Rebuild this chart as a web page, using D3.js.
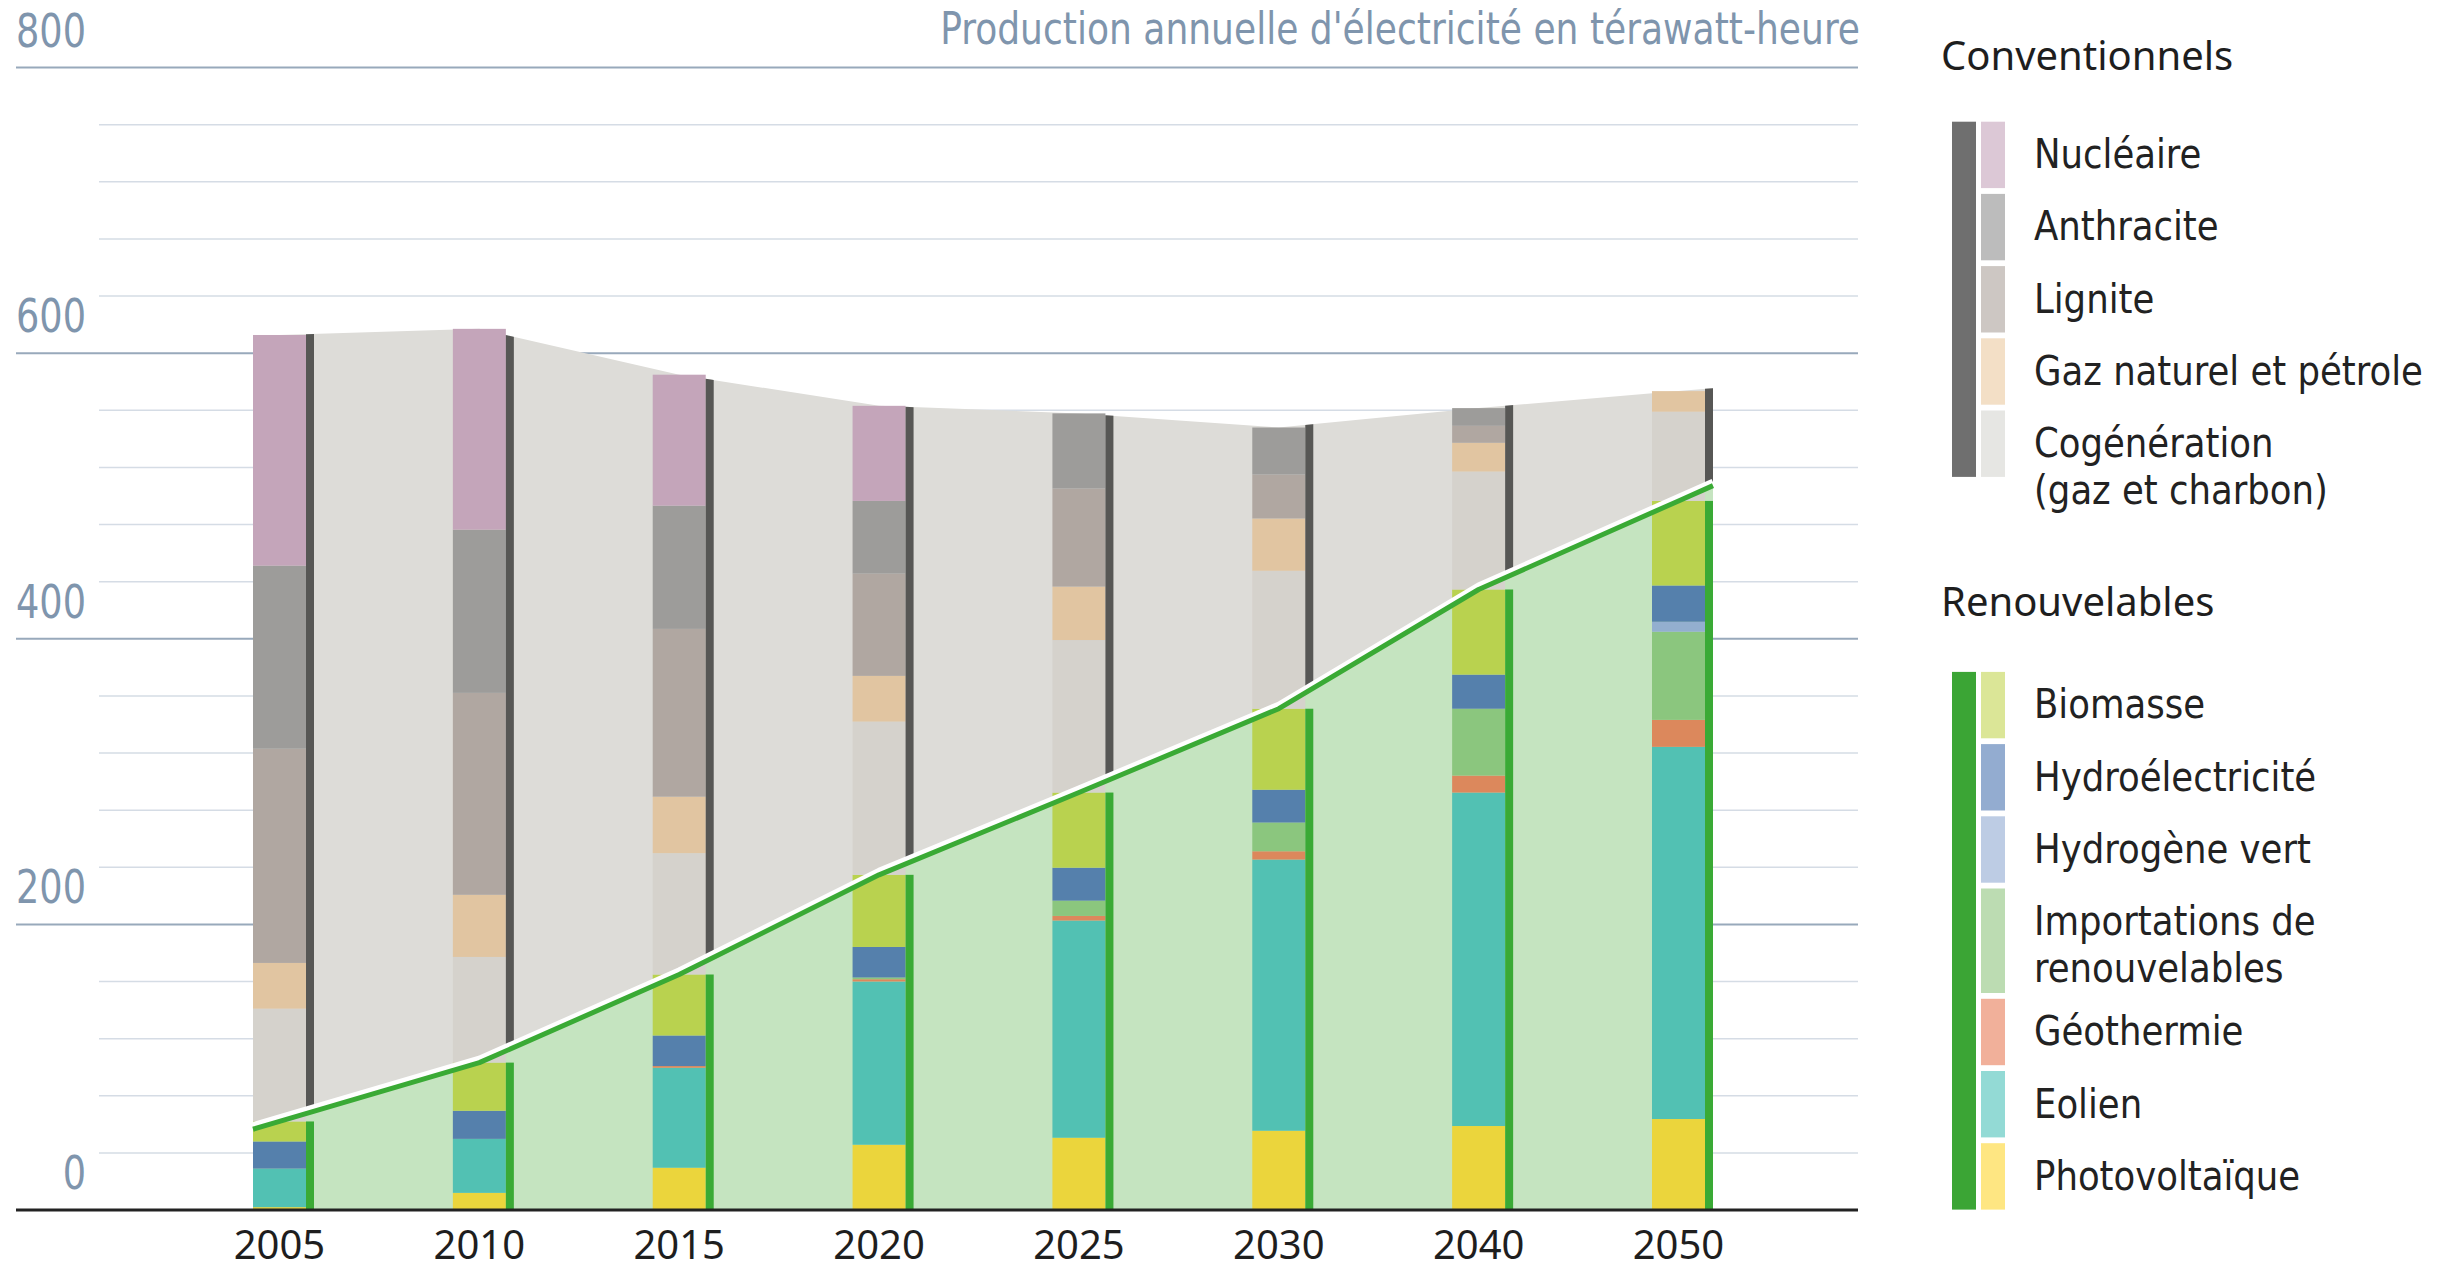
<!DOCTYPE html>
<html lang="fr">
<head>
<meta charset="utf-8">
<title>Production annuelle d'électricité</title>
<script src="https://cdn.jsdelivr.net/npm/d3@7"></script>
<style>
  html, body { margin: 0; padding: 0; background: #fff; }
  svg { display: block; }
</style>
</head>
<body>
<svg id="chart" width="2455" height="1272"></svg>
<script>
// années (catégories)
const years = ["2005", "2010", "2015", "2020", "2025", "2030", "2040", "2050"];

// renouvelables, TWh
const photovoltaique = [2, 12, 29.6, 45.7, 50.6, 55.5, 58.8, 63.7];
const eolien = [27, 37.8, 70, 114.3, 152.1, 189.9, 233.5, 260.6];
const geothermie = [0, 0, 1.2, 1.6, 3.2, 5.8, 11.9, 18.9];
const importations = [0, 0, 0, 1.2, 10.7, 20.1, 46.8, 61.7];
const hydrogene = [0, 0, 0, 0, 0, 0, 0, 7];
const hydro = [19, 19.7, 21.4, 21.4, 23.1, 23, 23.9, 25.4];
const biomasse = [14, 33.7, 42.7, 50.5, 52.6, 56.7, 59.6, 59.2];

// conventionnels, TWh
const cogeneration = [79, 74, 85, 107.3, 106.8, 96.6, 82.6, 62.5];
const gaz = [32, 43.5, 39.5, 32, 37.4, 36.6, 20.1, 14.4];
const lignite = [150, 141.4, 117.5, 71.6, 68.7, 30.8, 11.9, 0];
const anthracite = [128.2, 114.3, 86.3, 50.9, 52.6, 32.9, 12.4, 0];
const nucleaire = [161.5, 140.6, 91.7, 66.6, 0, 0, 0, 0];

// axe vertical
const yTicks = [0, 200, 400, 600, 800];
const yMinorStep = 40;

// légende
const convLabels = ["Nucléaire", "Anthracite", "Lignite", "Gaz naturel et pétrole", "Cogénération\n(gaz et charbon)"];
const renewLabels = ["Biomasse", "Hydroélectricité", "Hydrogène vert", "Importations de\nrenouvelables", "Géothermie", "Eolien", "Photovoltaïque"];

const title = "Production annuelle d'électricité en térawatt-heure";

// séries, de bas en haut de la pile
const SERIES = [
  { key: "pv", values: photovoltaique, bar: "#ebd53c", legend: "#fee682" },
  { key: "eol", values: eolien, bar: "#52c1b3", legend: "#93dad5" },
  { key: "geo", values: geothermie, bar: "#dc885c", legend: "#f1b09a" },
  { key: "imp", values: importations, bar: "#8bc67e", legend: "#bcdcb2" },
  { key: "h2", values: hydrogene, bar: "#93afcf", legend: "#bdcce4" },
  { key: "hydro", values: hydro, bar: "#5580ac", legend: "#93acd0" },
  { key: "bio", values: biomasse, bar: "#b9d24f", legend: "#dbe697" },
  { key: "cogen", values: cogeneration, bar: "#d5d2cc", legend: "#e6e6e3" },
  { key: "gaz", values: gaz, bar: "#e1c5a1", legend: "#f3dfc6" },
  { key: "lig", values: lignite, bar: "#b0a7a1", legend: "#cdc7c3" },
  { key: "anth", values: anthracite, bar: "#9d9c9a", legend: "#bcbcbc" },
  { key: "nuc", values: nucleaire, bar: "#c4a5ba", legend: "#dcc8d6" },
];
const RENEW = ["pv", "eol", "geo", "imp", "h2", "hydro", "bio"];

const COLORS = {
  convArea: "#dddcd8",
  renewArea: "#c5e4c0",
  convStripe: "#575755",
  renewStripe: "#3aaa35",
  line: "#3aaa35",
  axisText: "#7f95ad",
  major: "#98a9bb",
  minor: "#d5dce5",
  text: "#1e1e1e",
  legendConv: "#6f6f6f",
  legendRenew: "#3ba535",
};

const FONT_NARROW = "'Liberation Sans Narrow', 'Arial Narrow', 'DejaVu Sans Condensed', sans-serif";
const FONT_SANS = "'Noto Sans', 'Open Sans', sans-serif";

const svg = d3.select("#chart");

// tableau pour d3.stack
const rows = years.map((yr, i) => {
  const r = { year: yr };
  SERIES.forEach((s) => (r[s.key] = s.values[i]));
  return r;
});
const stacked = d3.stack().keys(SERIES.map((s) => s.key))(rows);
const renewTotal = rows.map((r) => d3.sum(RENEW, (k) => r[k]));
const grandTotal = rows.map((r) => d3.sum(SERIES, (s) => r[s.key]));

// échelles
const x = d3.scalePoint().domain(years).range([279.5, 1678.5]);
const y = d3.scaleLinear().domain([0, 800]).range([1210, 67.5]);
const barW = 53;
const stripeW = 8;
const plotLeft = 16;
const minorLeft = 99;
const plotRight = 1858;

// grille
const minorTicks = d3.range(0, 800 + 1, yMinorStep).filter((v) => !yTicks.includes(v));
svg.append("g")
  .selectAll("line")
  .data(minorTicks)
  .join("line")
  .attr("x1", minorLeft)
  .attr("x2", plotRight)
  .attr("y1", (d) => y(d))
  .attr("y2", (d) => y(d))
  .attr("stroke", COLORS.minor)
  .attr("stroke-width", 1.5);

svg.append("g")
  .selectAll("line")
  .data(yTicks.filter((v) => v > 0))
  .join("line")
  .attr("x1", plotLeft)
  .attr("x2", plotRight)
  .attr("y1", (d) => y(d))
  .attr("y2", (d) => y(d))
  .attr("stroke", COLORS.major)
  .attr("stroke-width", 2);

// points des aires : centres des barres, prolongés jusqu'aux bords extrêmes
const xLeft = x(years[0]) - barW / 2;
const xRight = x(years[years.length - 1]) + barW / 2 + stripeW;
function edgePoints(vals) {
  const pts = years.map((yr, i) => [x(yr), vals[i]]);
  const n = pts.length;
  const ext = (a, b, px) => a[1] + ((b[1] - a[1]) * (px - a[0])) / (b[0] - a[0]);
  return [[xLeft, ext(pts[0], pts[1], xLeft)], ...pts, [xRight, ext(pts[n - 2], pts[n - 1], xRight)]];
}
const renewPts = edgePoints(renewTotal);
const totalPts = edgePoints(grandTotal);
const bands = renewPts.map((p, i) => ({ x: p[0], lo: p[1], hi: totalPts[i][1] }));

const convArea = d3.area().x((d) => d.x).y0((d) => y(d.lo)).y1((d) => y(d.hi));
const renewArea = d3.area().x((d) => d.x).y0(y(0)).y1((d) => y(d.lo));

svg.append("path").attr("d", convArea(bands)).attr("fill", COLORS.convArea);
svg.append("path").attr("d", renewArea(bands)).attr("fill", COLORS.renewArea);

// barres empilées
const color = Object.fromEntries(SERIES.map((s) => [s.key, s.bar]));
svg.append("g")
  .selectAll("g")
  .data(stacked)
  .join("g")
  .attr("fill", (s) => color[s.key])
  .selectAll("rect")
  .data((s) => s.filter((d) => d[1] - d[0] > 0))
  .join("rect")
  .attr("x", (d) => x(d.data.year) - barW / 2)
  .attr("y", (d) => y(d[1]))
  .attr("width", barW)
  .attr("height", (d) => y(d[0]) - y(d[1]));

// bandes étroites à droite des barres : aire grise découpée
const clip = svg.append("defs").append("clipPath").attr("id", "stripes");
clip.selectAll("rect")
  .data(years)
  .join("rect")
  .attr("x", (d) => x(d) + barW / 2)
  .attr("y", 0)
  .attr("width", stripeW)
  .attr("height", 1272);
svg.append("path")
  .attr("d", convArea(bands))
  .attr("fill", COLORS.convStripe)
  .attr("clip-path", "url(#stripes)");

svg.append("g")
  .selectAll("rect")
  .data(years)
  .join("rect")
  .attr("x", (d) => x(d) + barW / 2)
  .attr("y", (d, i) => y(renewTotal[i]))
  .attr("width", stripeW)
  .attr("height", (d, i) => y(0) - y(renewTotal[i]))
  .attr("fill", COLORS.renewStripe);

// ligne des renouvelables avec liseré blanc
const line = d3.line().x((d) => d[0]).y((d) => y(d[1]));
svg.append("path")
  .attr("d", line(renewPts))
  .attr("fill", "none")
  .attr("stroke", "#fff")
  .attr("stroke-width", 7)
  .attr("stroke-linejoin", "round")
  .attr("transform", "translate(0,-3.5)");
svg.append("path")
  .attr("d", line(renewPts))
  .attr("fill", "none")
  .attr("stroke", COLORS.line)
  .attr("stroke-width", 5)
  .attr("stroke-linejoin", "round");

// axe horizontal
svg.append("line")
  .attr("x1", plotLeft)
  .attr("x2", plotRight)
  .attr("y1", y(0))
  .attr("y2", y(0))
  .attr("stroke", "#222")
  .attr("stroke-width", 3);

svg.append("g")
  .selectAll("text")
  .data(years)
  .join("text")
  .attr("x", (d) => x(d))
  .attr("y", 1259)
  .attr("text-anchor", "middle")
  .attr("font-family", FONT_SANS)
  .attr("font-size", 40)
  .attr("fill", COLORS.text)
  .text((d) => d);

// texte étroit, élargi pour retrouver la chasse de l'original
function narrowText(parent, str, px, py, size, anchor, fill) {
  return parent.append("text")
    .attr("transform", `translate(${px},${py})`)
    .attr("text-anchor", anchor)
    .attr("font-family", FONT_NARROW)
    .attr("font-size", size)
    .attr("fill", fill)
    .text(str);
}
function fitGroup(nodes, ref, target) {
  const k = target / ref.node().getComputedTextLength();
  nodes.forEach((t) => t.attr("transform", t.attr("transform") + ` scale(${k},1)`));
}

// graduations
const tickTexts = yTicks.map((v) =>
  narrowText(svg, String(v), 86, y(v) - 21, 46, "end", COLORS.axisText),
);
fitGroup(tickTexts, tickTexts[yTicks.indexOf(800)], 70);

// titre
const titleText = narrowText(svg, title, 1860, 43.5, 44, "end", COLORS.axisText);
fitGroup([titleText], titleText, 920);

// légende
const legend = svg.append("g");
const legendTexts = [];
let refText = null;
function legendGroup(header, headerY, labels, keys, barColor, top) {
  legend.append("text")
    .attr("x", 1941)
    .attr("y", headerY)
    .attr("font-family", FONT_SANS)
    .attr("font-size", 40)
    .attr("fill", COLORS.text)
    .text(header);
  let cur = top;
  labels.forEach((lab, i) => {
    const lines = lab.split("\n");
    const last = i === labels.length - 1;
    const h = lines.length > 1 && !last ? 104.5 : 66.4;
    const fill = SERIES.find((s) => s.key === keys[i]).legend;
    legend.append("rect")
      .attr("x", 1981)
      .attr("y", cur)
      .attr("width", 24)
      .attr("height", h)
      .attr("fill", fill);
    lines.forEach((ln, j) => {
      const t = narrowText(legend, ln, 2034, cur + 46.5 + j * 47, 41, "start", "#222");
      legendTexts.push(t);
      if (ln === "Gaz naturel et pétrole") refText = t;
    });
    cur += h + 5.8;
  });
  legend.append("rect")
    .attr("x", 1952)
    .attr("y", top)
    .attr("width", 24)
    .attr("height", cur - 5.8 - top)
    .attr("fill", barColor);
}
legendGroup("Conventionnels", 69.5, convLabels, ["nuc", "anth", "lig", "gaz", "cogen"], COLORS.legendConv, 121.7);
legendGroup("Renouvelables", 615.5, renewLabels, ["bio", "hydro", "h2", "imp", "geo", "eol", "pv"], COLORS.legendRenew, 671.9);
fitGroup(legendTexts, refText, 389);
</script>
</body>
</html>
